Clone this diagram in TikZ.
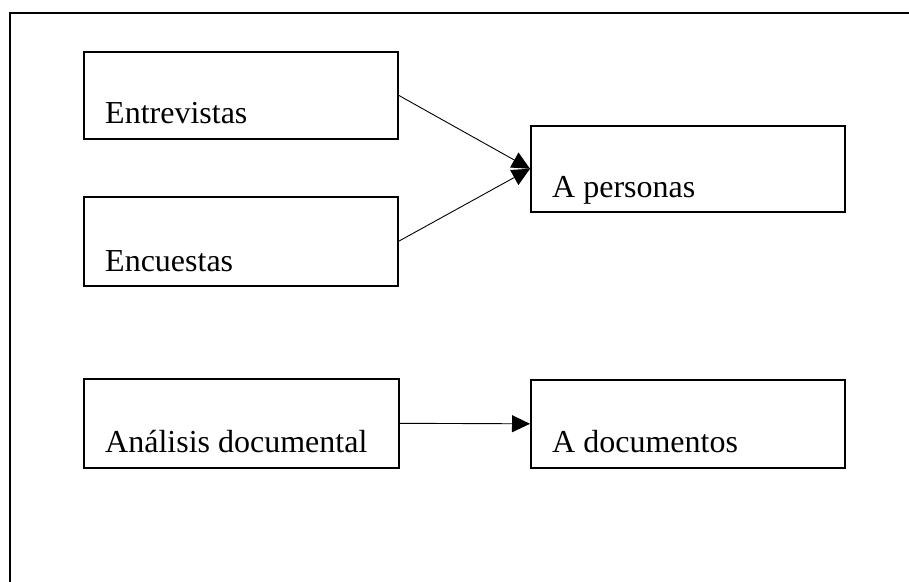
\documentclass[tikz,border=0pt]{standalone}
\usepackage{fontspec}
\setmainfont{Liberation Serif}
\usetikzlibrary{arrows.meta}
\begin{document}
\begin{tikzpicture}[x=1pt,y=-1pt,
  box/.style={draw, line width=1.6pt, anchor=north west, inner sep=0pt, minimum width=314pt},
  txt/.style={anchor=base west, inner sep=0pt, font=\fontsize{32}{38}\selectfont},
  conn/.style={line width=0.9pt, -{Triangle[length=18pt,width=17pt]}}]
\useasboundingbox (0,0) rectangle (909,581);
% outer frame (cut by the page)
\draw[line width=1.6pt] (10,600) -- (10,13) -- (930,13);
% boxes
\node[box, minimum height=87pt] (e) at (83,51) {};
\node[box, minimum height=89pt] (c) at (83,196) {};
\node[box, minimum height=89pt, minimum width=315pt] (a) at (83,378) {};
\node[box, minimum height=86pt] (p) at (530,125) {};
\node[box, minimum height=88pt] (d) at (530,379) {};
% texts
\node[txt] (et) at (105,123) {Entrevistas};
\node[txt] (ct) at (105,271) {Encuestas};
\node[txt] (at) at (105,452) {Análisis documental};
\node[txt] (pt) at (552,197) {A personas};
\node[txt] (dt) at (552,452) {A documentos};
% connectors
\draw[conn] (e.east) -- (p.west);
\draw[conn] (c.east) -- (p.west);
\draw[conn] (a.east) -- (d.west);
\end{tikzpicture}
\end{document}
